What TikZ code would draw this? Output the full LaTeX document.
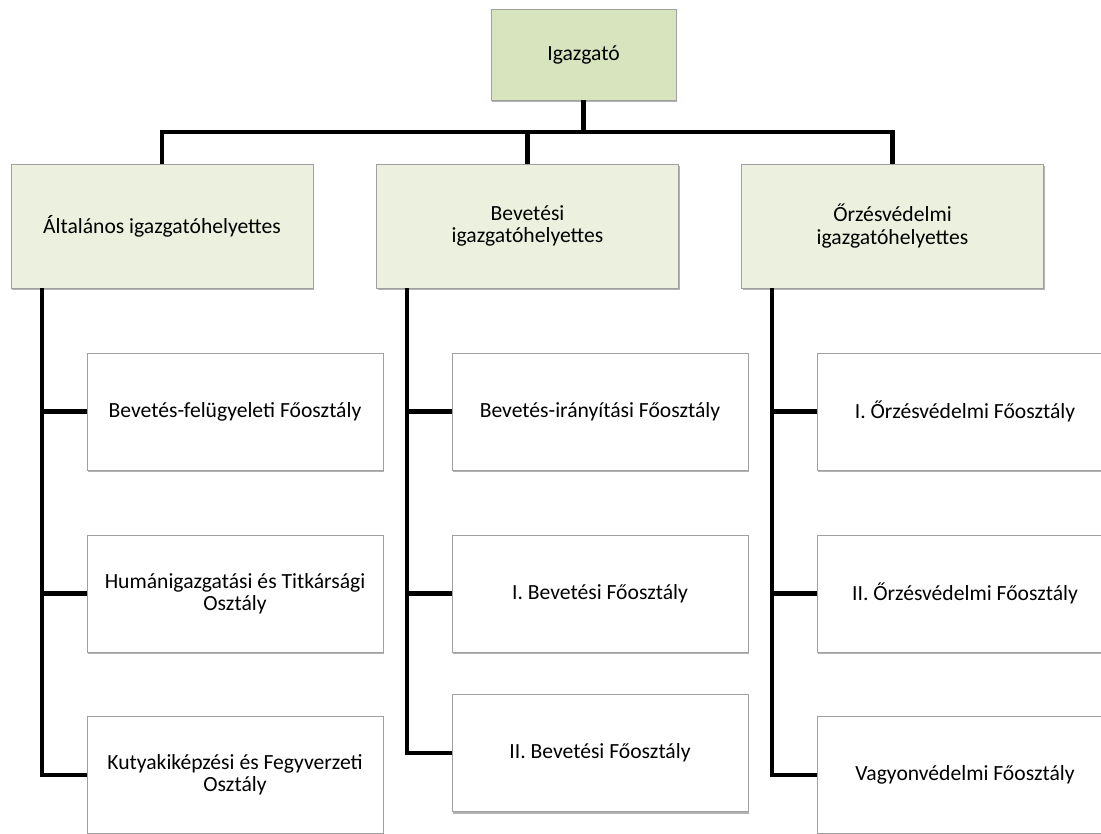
\documentclass[tikz,border=0pt]{standalone}
\usepackage{fontspec}
\setmainfont{Carlito}
\usepackage{tikz}
\usetikzlibrary{positioning, shadows}

\definecolor{headgreen}{RGB}{215,228,189}
\definecolor{deputygreen}{RGB}{235,241,222}
\definecolor{edgegrey}{RGB}{160,160,160}

\begin{document}
\begin{tikzpicture}[x=0.02cm, y=-0.02cm,
        boxbase/.style={draw=edgegrey, line width=0.5pt, align=center, inner sep=0pt,
            drop shadow={shadow xshift=0.6pt, shadow yshift=-1.2pt, opacity=0.3, fill=black}},
        director/.style={boxbase, fill=headgreen, minimum width=3.7cm, minimum height=1.82cm},
        deputy/.style={boxbase, fill=deputygreen, minimum width=6.04cm, minimum height=2.48cm},
        unit/.style={boxbase, fill=white, minimum width=5.92cm, minimum height=2.34cm},
        conn/.style={line width=2.3pt, line join=miter},
        every node/.style={font=\fontsize{12.3}{12.8}\selectfont}
    ]
        \useasboundingbox (0,0) rectangle (1101,833);
        \clip (0,0) rectangle (1101,833);

        % Top
        \node[director] (dir) at (583.5,54.5) {Igazgató};

        % Deputies
        \node[deputy] (gen) at (162,226) {Általános igazgatóhelyettes};
        \node[deputy] (bev) at (527.5,226) {Bevetési\\igazgatóhelyettes};
        \node[deputy] (orz) at (892.5,226) {Őrzésvédelmi\\igazgatóhelyettes};

        % Units
        \node[unit] (g1) at (235,411.5) {Bevetés-felügyeleti Főosztály};
        \node[unit] (g2) at (235,593.5) {Humánigazgatási és Titkársági\\Osztály};
        \node[unit] (g3) at (235,774.5) {Kutyakiképzési és Fegyverzeti\\Osztály};

        \node[unit] (b1) at (600,411.5) {Bevetés-irányítási Főosztály};
        \node[unit] (b2) at (600,593.5) {I. Bevetési Főosztály};
        \node[unit] (b3) at (600,753) {II. Bevetési Főosztály};

        \node[unit] (o1) at (965,411.5) {I. Őrzésvédelmi Főosztály};
        \node[unit] (o2) at (965,593.5) {II. Őrzésvédelmi Főosztály};
        \node[unit] (o3) at (965,774.5) {Vagyonvédelmi Főosztály};

        % Bar under the director
        \coordinate (bar) at (527.5,132);
        \draw[conn] (gen.north) -- (gen.north |- bar) -- (orz.north |- bar) -- (orz.north);
        \draw[conn] (dir.south) -- (dir.south |- bar);
        \draw[conn] (bev.north) -- (bev.north |- bar);

        % Trunks
        \coordinate (gtr) at ([xshift=0.62cm]gen.south west);
        \coordinate (btr) at ([xshift=0.62cm]bev.south west);
        \coordinate (otr) at ([xshift=0.62cm]orz.south west);
        \draw[conn] (gtr) |- (g3.west);
        \draw[conn] (btr) |- (b3.west);
        \draw[conn] (otr) |- (o3.west);
        \foreach \n/\t in {g1/gtr, g2/gtr, b1/btr, b2/btr, o1/otr, o2/otr} {
            \draw[conn] (\n.west) -- (\n.west -| \t);
        }
    \end{tikzpicture}
\end{document}
